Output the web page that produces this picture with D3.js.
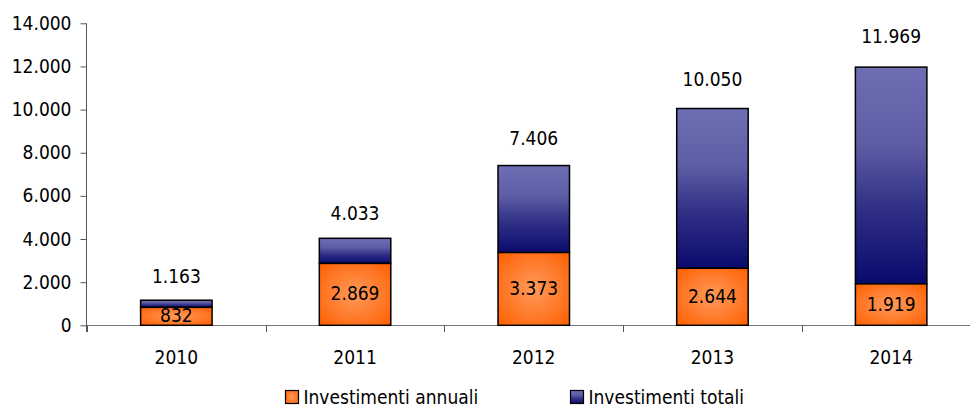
<!DOCTYPE html>
<html><head><meta charset="utf-8">
<script src="https://cdn.jsdelivr.net/npm/d3@7"></script>
<style>body{margin:0;background:#fff}svg{display:block}text{font-family:"DejaVu Sans Condensed","DejaVu Sans",Verdana,sans-serif;font-stretch:condensed;fill:#000}</style>
</head><body><svg id="c" width="970" height="406"></svg>
<script>
const years = ["2010","2011","2012","2013","2014"];
const annual = [832, 2869, 3373, 2644, 1919];
const total = [1163, 4033, 7406, 10050, 11969];
const yTicks = [0,2000,4000,6000,8000,10000,12000,14000];
const seriesNames = ["Investimenti annuali","Investimenti totali"];

const FS = "19px";
const fmt = v => d3.format(",")(v).replace(/,/g,".");
const svg = d3.select("#c");
const defs = svg.append("defs");
const rg = defs.append("radialGradient").attr("id","og").attr("cx","50%").attr("cy","50%").attr("r","70%");
rg.append("stop").attr("offset","0%").attr("stop-color","#ff9a5a");
rg.append("stop").attr("offset","55%").attr("stop-color","#ff7a2a");
rg.append("stop").attr("offset","100%").attr("stop-color","#ff5f00");
const lg = defs.append("linearGradient").attr("id","bg").attr("x1",0).attr("y1",0).attr("x2",0).attr("y2",1);
lg.append("stop").attr("offset","0%").attr("stop-color","#6e6eb4");
lg.append("stop").attr("offset","35%").attr("stop-color","#5e5ea6");
lg.append("stop").attr("offset","65%").attr("stop-color","#303086");
lg.append("stop").attr("offset","100%").attr("stop-color","#0a0a6e");

const x = d3.scaleBand().domain(years).range([87, 980.5]).paddingInner(0.6).paddingOuter(0.3);
const y = d3.scaleLinear().domain([0,14000]).range([325.3, 23.3]);

// axes
const yAxis = d3.axisLeft(y).tickValues(yTicks).tickFormat(fmt).tickSize(6).tickPadding(9);
const gy = svg.append("g").attr("transform","translate(86.5,0)").call(yAxis);
gy.selectAll("text").attr("font-family",null).style("font-size",FS);
gy.selectAll("line,path").attr("stroke","#555");
gy.select(".domain").attr("d","M0,23.3V332");

const xs = d3.scaleLinear().domain([0,5]).range([87,980.5]);
const gx = svg.append("g");
gx.append("line").attr("x1",86.5).attr("x2",980).attr("y1",325.5).attr("y2",325.5).attr("stroke","#777");
gx.selectAll("line.t").data(d3.range(0,6)).join("line").attr("class","t")
  .attr("x1",d=>Math.round(xs(d))+0.5).attr("x2",d=>Math.round(xs(d))+0.5).attr("y1",325).attr("y2",332).attr("stroke","#555");
gx.selectAll("text").data(years).join("text")
  .attr("x",d=>x(d)+x.bandwidth()/2).attr("y",364).attr("text-anchor","middle").style("font-size",FS).text(d=>d);

const bars = svg.append("g");
bars.selectAll("rect.tot").data(years).join("rect").attr("class","tot")
  .attr("x",d=>x(d)).attr("width",x.bandwidth())
  .attr("y",(d,i)=>y(total[i])).attr("height",(d,i)=>y(annual[i])-y(total[i]))
  .attr("fill","url(#bg)").attr("stroke","#000").attr("stroke-width",1.5);
bars.selectAll("rect.ann").data(years).join("rect").attr("class","ann")
  .attr("x",d=>x(d)).attr("width",x.bandwidth())
  .attr("y",(d,i)=>y(annual[i])).attr("height",(d,i)=>y(0)-y(annual[i]))
  .attr("fill","url(#og)").attr("stroke","#000").attr("stroke-width",1.5);

bars.selectAll("text.tl").data(years).join("text").attr("class","tl")
  .attr("x",d=>x(d)+x.bandwidth()/2).attr("y",(d,i)=>y(total[i]*1.03)-16)
  .attr("text-anchor","middle").style("font-size",FS).text((d,i)=>fmt(total[i]));
bars.selectAll("text.al").data(years).join("text").attr("class","al")
  .attr("x",d=>x(d)+x.bandwidth()/2).attr("y",(d,i)=>(y(annual[i])+y(0))/2+6)
  .attr("text-anchor","middle").style("font-size",FS).text((d,i)=>fmt(annual[i]));

// legend
const leg = svg.append("g");
const lx = [285.5, 570.5];
const fills = ["url(#og)","url(#bg)"];
seriesNames.forEach((n,i)=>{
  leg.append("rect").attr("x",lx[i]).attr("y",390.5).attr("width",13).attr("height",13)
    .attr("fill",fills[i]).attr("stroke","#000").attr("stroke-width",1.2);
  leg.append("text").attr("x",lx[i]+18).attr("y",403.5).style("font-size",FS).text(n);
});
</script></body></html>
